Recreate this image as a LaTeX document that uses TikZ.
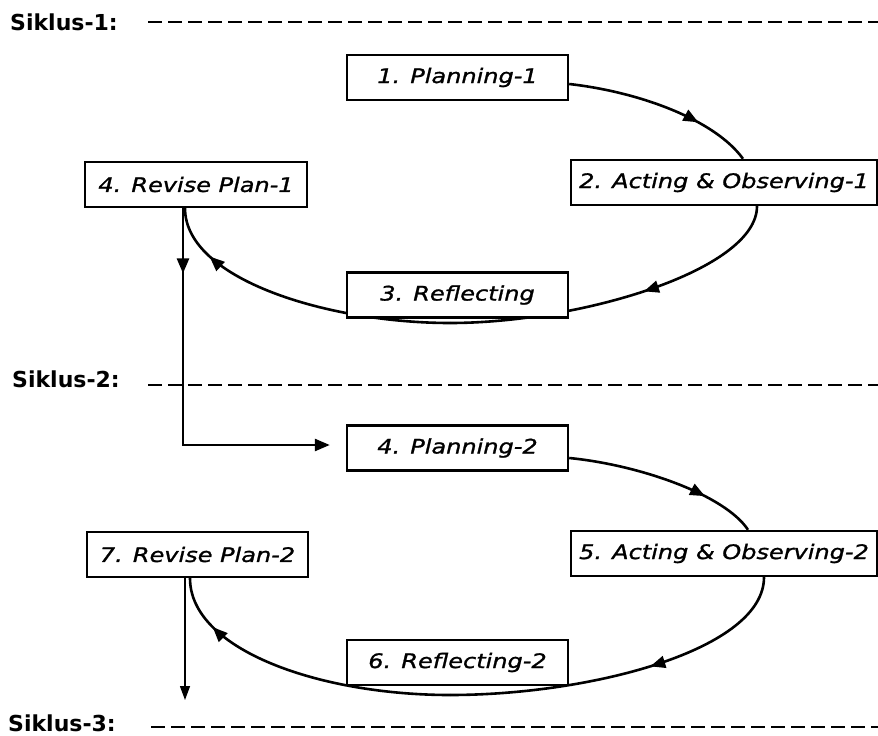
\documentclass[tikz,border=0pt]{standalone}
\usepackage{fontspec}
\newfontfamily\vfont{DejaVu Sans}
\newfontfamily\boxfont[FakeStretch=1.2,FakeBold=1.2]{DejaVu Sans Oblique}
\usetikzlibrary{arrows.meta,decorations.markings,backgrounds,calc}
\tikzset{
  stagebox/.style={draw, line width=2.4pt, fill=white, inner sep=0pt, minimum height=45pt,
    font=\boxfont\fontsize{20}{24}\selectfont},
  cycleline/.style={line width=2.6pt},
  tipA/.tip={Triangle[length=15pt,width=12pt]},
  midarrow/.style={postaction={decorate}, decoration={markings, mark=at position #1 with {\arrow{tipA}}}},
  sikluslabel/.style={font=\vfont\bfseries\fontsize{22}{26}\selectfont, anchor=base west, inner sep=0pt},
  siklusline/.style={line width=2.6pt, dash pattern=on 14pt off 6pt},
}
\begin{document}
\begin{tikzpicture}[x=1pt,y=-1pt]
\useasboundingbox (0,0) rectangle (878,736);

% cycle labels and dashed separators
\node[sikluslabel] (s1) at (10,30) {Siklus-1:};
\node[sikluslabel] (s2) at (12,387) {Siklus-2:};
\node[sikluslabel] (s3) at (8,731) {Siklus-3:};
\coordinate (s1a) at (148,22);  \coordinate (s1b) at (878,22);
\coordinate (s2a) at (148,385); \coordinate (s2b) at (878,385);
\coordinate (s3a) at (151,727); \coordinate (s3b) at (878,727);
\draw[siklusline] (s1a) -- (s1b);
\draw[siklusline] (s2a) -- (s2b);
\draw[siklusline] (s3a) -- (s3b);

% cycle 1
\node[stagebox, minimum width=221pt] (p1) at (457.5,77.5) {1. Planning-1};
\node[stagebox, minimum width=306pt] (a1) at (724,182.5) {2. Acting \& Observing-1};
\node[stagebox, minimum width=221pt] (r1) at (457.5,295) {3. Reflecting};
\node[stagebox, minimum width=222pt] (v1) at (196,184.5) {4. Revise Plan-1};

% cycle 2
\node[stagebox, minimum width=221pt] (p2) at (457.5,448) {4. Planning-2};
\node[stagebox, minimum width=306pt] (a2) at (724,553.5) {5. Acting \& Observing-2};
\node[stagebox, minimum width=221pt] (r2) at (457.5,662.5) {6. Reflecting-2};
\node[stagebox, minimum width=221pt] (v2) at (197.5,554.5) {7. Revise Plan-2};

\coordinate (low1) at (450,323);
\coordinate (low2) at (450,695);
\coordinate (exit) at (185,700);

\begin{scope}[on background layer]
\fill[white] (0,0) rectangle (878,736);
% cycle 1 loop
\draw[cycleline, midarrow=0.7] ($(p1.east)+(0,6.5)$) .. controls (640,92) and (715,120) .. ($(a1.north)+(19,0)$);
\draw[cycleline, midarrow=0.43] ($(a1.south)+(33,0)$) .. controls (757,270) and (580,323) .. (low1);
\draw[cycleline, midarrow=0.82] (low1) .. controls (330,323) and (185,280) .. ($(v1.south)+(-11,0)$);
% cycle 2 loop
\draw[cycleline, midarrow=0.72] ($(p2.east)+(0,10)$) .. controls (640,465) and (725,495) .. ($(a2.north)+(24,0)$);
\draw[cycleline, midarrow=0.43] ($(a2.south)+(40,0)$) .. controls (764,650) and (590,695) .. (low2);
\draw[cycleline, midarrow=0.82] (low2) .. controls (320,695) and (190,650) .. ($(v2.south)+(-7.5,0)$);
\end{scope}

% link from cycle 1 to cycle 2
\draw[cycleline, midarrow=0.17, -tipA] ($(v1.south)+(-13,0)$) -- (183,445) -- ($(p2.west)+(-16,-3)$);
% exit to cycle 3
\draw[line width=1.3pt, -{Triangle[length=14pt,width=10pt]}] ($(v2.south)+(-12.5,0)$) -- (exit);
\end{tikzpicture}
\end{document}
